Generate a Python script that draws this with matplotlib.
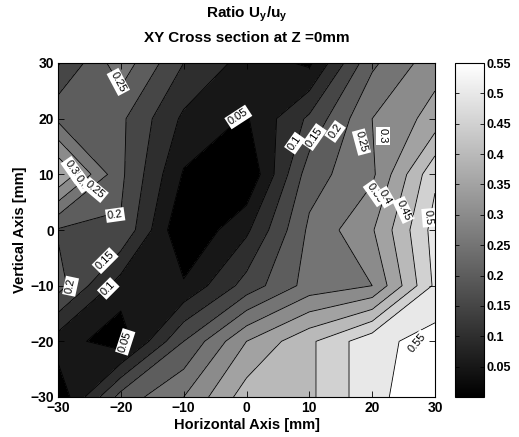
import numpy as np
import matplotlib
matplotlib.use("Agg")
import matplotlib.pyplot as plt
from matplotlib.cm import ScalarMappable
from matplotlib.colors import Normalize

# ---------------- data ----------------
x_mm = [-30, -20, -10, 0, 10, 20, 30]
y_mm = [30, 20, 10, 0, -10, -20, -30]
ratio_y_p30 = [0.145, 0.28, 0.15, 0.08, 0.04, 0.24, 0.33]
ratio_y_p20 = [0.24, 0.21, 0.09, 0.045, 0.16, 0.30, 0.37]
ratio_y_p10 = [0.40, 0.21, 0.045, 0.00, 0.228, 0.29, 0.49]
ratio_y_0 = [0.195, 0.195, 0.00, 0.09, 0.26, 0.345, 0.52]
ratio_y_m10 = [0.22, 0.075, 0.057, 0.17, 0.27, 0.30, 0.51]
ratio_y_m20 = [0.075, 0.02, 0.20, 0.35, 0.44, 0.535, 0.57]
ratio_y_m30 = [0.01, 0.22, 0.30, 0.426, 0.44, 0.535, 0.59]

contour_levels = [0.05, 0.1, 0.15, 0.2, 0.25, 0.3, 0.35, 0.4, 0.45, 0.5, 0.55]
color_max = 0.55
x_ticks = [-30, -20, -10, 0, 10, 20, 30]
y_ticks = [-30, -20, -10, 0, 10, 20, 30]

# contour labels: level, anchor point (mm) and text angle (deg)
label_levels = [0.25, 0.05, 0.35, 0.3, 0.25, 0.2, 0.1, 0.15, 0.2, 0.25, 0.3,
                0.35, 0.4, 0.45, 0.5, 0.2, 0.15, 0.1, 0.05, 0.55]
label_x = [-20.4, -1.3, -27.6, -26.2, -24.1, -20.9, 7.7, 10.8, 14.1, 18.3, 21.7,
           20.5, 22.1, 25.0, 29.0, -28.0, -22.5, -22.0, -19.3, 27.2]
label_y = [26.6, 20.3, 10.8, 8.6, 7.2, 2.7, 15.6, 16.7, 17.7, 15.8, 16.9,
           6.6, 5.9, 3.6, 2.2, -10.1, -5.5, -10.5, -20.1, -20.3]
label_angle = [-62, 33, -55, -55, -40, 8, 55, 55, 55, -75, -90,
               -55, -60, -65, -85, 78, 45, 45, 72, 50]

# ---------------- figure ----------------
plt.rcParams["font.family"] = ["Liberation Sans", "DejaVu Sans"]
plt.rcParams["font.weight"] = "bold"
plt.rcParams["mathtext.fontset"] = "custom"
plt.rcParams["mathtext.rm"] = "Liberation Sans:bold"
plt.rcParams["mathtext.bf"] = "Liberation Sans:bold"
plt.rcParams["mathtext.it"] = "Liberation Sans:bold"

W, H = 519, 437
fig = plt.figure(figsize=(W / 100, H / 100), dpi=100)
fig.patch.set_facecolor("white")

ax = fig.add_axes([58 / W, (H - 397) / H, 377 / W, 334 / H])

Z = np.array([ratio_y_p30, ratio_y_p20, ratio_y_p10, ratio_y_0,
              ratio_y_m10, ratio_y_m20, ratio_y_m30])
X, Y = np.meshgrid(x_mm, y_mm)

fill_levels = [-1.0] + contour_levels + [2.0]
lower_bounds = [0.0] + contour_levels
fill_colors = [str(min(1.0, max(0.0, lb / color_max))) for lb in lower_bounds]

ax.contourf(X, Y, Z, levels=fill_levels, colors=fill_colors)
cs = ax.contour(X, Y, Z, levels=contour_levels, colors="k", linewidths=0.6)

ax.set_xlim(-30, 30)
ax.set_ylim(-30, 30)

for lev, lx, ly, ang in zip(label_levels, label_x, label_y, label_angle):
    ax.text(lx, ly, f"{lev:g}", fontsize=8, fontweight="normal", color="k",
            rotation=ang, rotation_mode="anchor", ha="center", va="center",
            zorder=5, clip_on=True,
            bbox=dict(boxstyle="square,pad=0.15", fc="white", ec="none"))

ax.set_xticks(x_ticks)
ax.set_yticks(y_ticks)
ax.tick_params(direction="in", top=True, right=True, length=4, width=0.6,
               labelsize=10, pad=3)
for sp in ax.spines.values():
    sp.set_linewidth(0.8)
ax.set_xlabel("Horizontal Axis [mm]", fontsize=10.5, fontweight="bold", labelpad=2)
ax.set_ylabel("Vertical Axis [mm]", fontsize=10.5, fontweight="bold", labelpad=2)

cx = (58 + 435) / 2 / W
fig.text(cx, 1 - 14 / H, r"$\mathbf{Ratio\ U_{y}/u_{y}}$", ha="center", va="center",
         fontsize=11)
fig.text(cx, 1 - 38 / H, "XY Cross section at Z =0mm", ha="center", va="center",
         fontsize=11, fontweight="bold")

# ---------------- colorbar ----------------
cax = fig.add_axes([455 / W, (H - 397) / H, 29 / W, 334 / H])
sm = ScalarMappable(norm=Normalize(0, color_max), cmap="gray")
cb = fig.colorbar(sm, cax=cax, ticks=contour_levels)
cb.set_ticklabels([f"{v:g}" for v in contour_levels])
cax.tick_params(direction="in", left=True, right=True, length=3, width=0.6,
                labelsize=9, pad=2)
cb.outline.set_linewidth(0.8)

fig.savefig("out.png", dpi=100)
